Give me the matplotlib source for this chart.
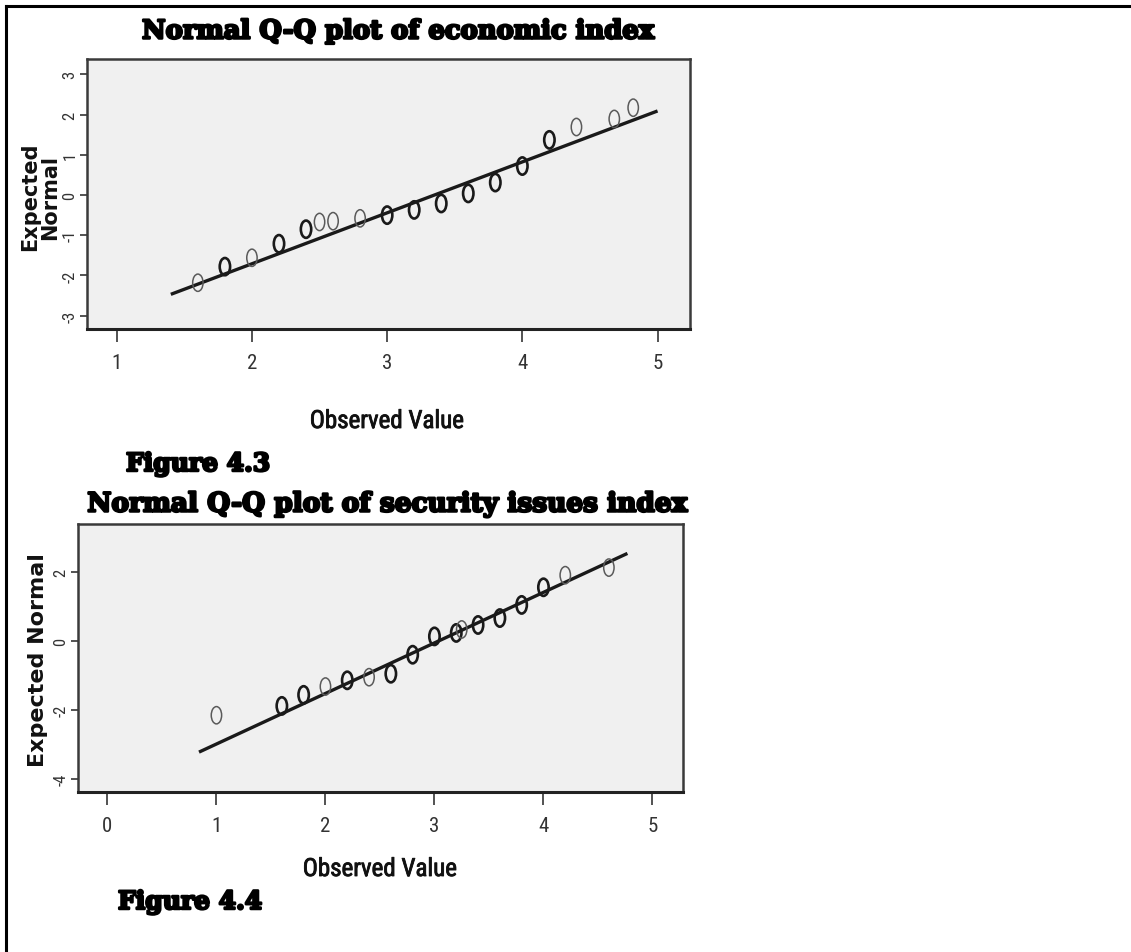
import matplotlib
matplotlib.use("Agg")
import matplotlib.pyplot as plt
from matplotlib.markers import MarkerStyle
from matplotlib.transforms import Affine2D
from matplotlib.lines import Line2D
import matplotlib.patheffects as pe
from matplotlib import font_manager as fm
import numpy as np

plt.rcParams["axes.unicode_minus"] = False

# ---------------- data ----------------
econ_title = "Normal Q-Q plot of economic index"
econ_caption = "Figure 4.3"
econ_observed = [1.6, 1.8, 2.0, 2.2, 2.4, 2.5, 2.6, 2.8, 3.0, 3.2, 3.4, 3.6, 3.8, 4.0, 4.2, 4.4, 4.68, 4.82]
econ_expected = [-2.18, -1.78, -1.56, -1.21, -0.85, -0.67, -0.65, -0.58, -0.50, -0.37, -0.21, 0.04,
                 0.31, 0.72, 1.37, 1.69, 1.89, 2.17]
econ_ties = [1, 2, 1, 2, 2, 1, 1, 1, 2, 2, 2, 2, 2, 2, 2, 1, 1, 1]
econ_line_x = [1.4, 5.0]
econ_mean = 3.35
econ_sd = 0.79
econ_xticks = [1, 2, 3, 4, 5]
econ_yticks = [-3, -2, -1, 0, 1, 2, 3]
econ_ylabel = "Expected\nNormal"

sec_title = "Normal Q-Q plot of security issues index"
sec_caption = "Figure 4.4"
sec_observed = [1.0, 1.6, 1.8, 2.0, 2.2, 2.4, 2.6, 2.8, 3.0, 3.2, 3.25, 3.4, 3.6, 3.8, 4.0, 4.2, 4.6]
sec_expected = [-2.15, -1.88, -1.56, -1.32, -1.14, -1.05, -0.95, -0.40, 0.13, 0.23, 0.33, 0.46,
                0.66, 1.04, 1.55, 1.90, 2.12]
sec_ties = [1, 2, 2, 1, 2, 1, 2, 2, 2, 2, 1, 2, 2, 2, 2, 1, 1]
sec_line_x = [0.84, 4.77]
sec_mean = 3.04
sec_sd = 0.684
sec_xticks = [0, 1, 2, 3, 4, 5]
sec_yticks = [-4, -2, 0, 2]
sec_ylabel = "Expected Normal"

xlabel = "Observed Value"

# ---------------- fonts ----------------
def find_narrow():
    names = ["Liberation Sans Narrow", "Roboto Condensed", "DejaVu Sans Condensed"]
    for n in names:
        for f in fm.fontManager.ttflist:
            if f.name == n and f.style == "normal" and "italic" not in f.fname.lower():
                return f.fname
    for f in fm.fontManager.ttflist:
        low = f.fname.lower()
        if ("condensed" in low or "narrow" in low) and f.style == "normal" and "italic" not in low \
                and "oblique" not in low:
            return f.fname
    return None

narrow_file = find_narrow()


def narrow(size):
    if narrow_file:
        return fm.FontProperties(fname=narrow_file, size=size)
    return fm.FontProperties(family="DejaVu Sans", size=size)


W, H = 1131, 953
fig = plt.figure(figsize=(W / 100, H / 100), dpi=100, facecolor="white")


def fx(px):
    return px / W


def fy(py):
    return 1 - py / H


heavy = [pe.withStroke(linewidth=1.8, foreground="black")]
semi = [pe.withStroke(linewidth=0.6, foreground="#111111")]
ell = MarkerStyle("o", transform=Affine2D().scale(0.6, 1.0))


def make_panel(box, obs, exp, ties, line_x, mean, sd, xticks, yticks, xlim, ylim):
    left, top, right, bottom = box
    ax = fig.add_axes([fx(left), fy(bottom), fx(right) - fx(left), fy(top) - fy(bottom)])
    ax.set_facecolor("#f0f0f0")
    lx = np.array(line_x)
    ax.plot(lx, (lx - mean) / sd, color="#1a1a1a", lw=2.4, solid_capstyle="butt", zorder=2)
    lws = [1.1 if t == 1 else 1.9 for t in ties]
    cols = ["#5a5a5a" if t == 1 else "#1a1a1a" for t in ties]
    ax.scatter(obs, exp, marker=ell, s=155, facecolors="none", edgecolors=cols, linewidths=lws, zorder=3)
    ax.set_xlim(*xlim)
    ax.set_ylim(*ylim)
    ax.set_xticks(xticks)
    ax.set_yticks(yticks)
    ax.set_xticklabels([str(v) for v in xticks], fontproperties=narrow(15), color="#333333")
    ax.set_yticklabels([str(v) for v in yticks], fontproperties=narrow(12), color="#333333",
                       rotation=90, va="center")
    ax.tick_params(axis="x", direction="out", length=9, width=1.3, color="#444444", pad=8)
    ax.tick_params(axis="y", direction="out", length=5, width=1.3, color="#444444", pad=2)
    for s in ax.spines.values():
        s.set_color("#3a3a3a")
        s.set_linewidth(1.8)
    ax.spines["bottom"].set_linewidth(2.2)
    ax.spines["bottom"].set_color("#222222")
    return ax


make_panel((87, 60, 690, 330), econ_observed, econ_expected, econ_ties, econ_line_x, econ_mean,
           econ_sd, econ_xticks, econ_yticks, (0.78, 5.24), (-3.33, 3.38))
make_panel((78, 525, 683, 793), sec_observed, sec_expected, sec_ties, sec_line_x, sec_mean,
           sec_sd, sec_xticks, sec_yticks, (-0.27, 5.28), (-4.37, 3.38))

# titles
fig.text(fx(398), fy(32), econ_title, ha="center", va="center", family="DejaVu Serif",
         weight="bold", size=18.6, path_effects=heavy)
fig.text(fx(387), fy(505), sec_title, ha="center", va="center", family="DejaVu Serif",
         weight="bold", size=19, path_effects=heavy)

# captions
fig.text(fx(126), fy(465), econ_caption, ha="left", va="center", family="DejaVu Serif",
         weight="bold", size=18, path_effects=heavy)
fig.text(fx(118), fy(903), sec_caption, ha="left", va="center", family="DejaVu Serif",
         weight="bold", size=18, path_effects=heavy)

# axis labels
fig.text(fx(387), fy(422), xlabel, ha="center", va="center", fontproperties=narrow(18),
         color="#111111", path_effects=semi)
fig.text(fx(380), fy(870), xlabel, ha="center", va="center", fontproperties=narrow(18),
         color="#111111", path_effects=semi)
fig.text(fx(40), fy(197), econ_ylabel, ha="center", va="center", rotation=90, family="DejaVu Sans",
         weight="bold", size=15, linespacing=0.98, color="#111111")
fig.text(fx(38), fy(660), sec_ylabel, ha="center", va="center", rotation=90, family="DejaVu Sans",
         weight="bold", size=16, color="#111111")

# page border (top and left rules)
fig.add_artist(Line2D([fx(5.5), 1], [fy(7), fy(7)], color="black", lw=2.2))
fig.add_artist(Line2D([fx(5.5), fx(5.5)], [0, fy(7)], color="black", lw=2.2))

fig.savefig("out.png", dpi=100, facecolor="white")
